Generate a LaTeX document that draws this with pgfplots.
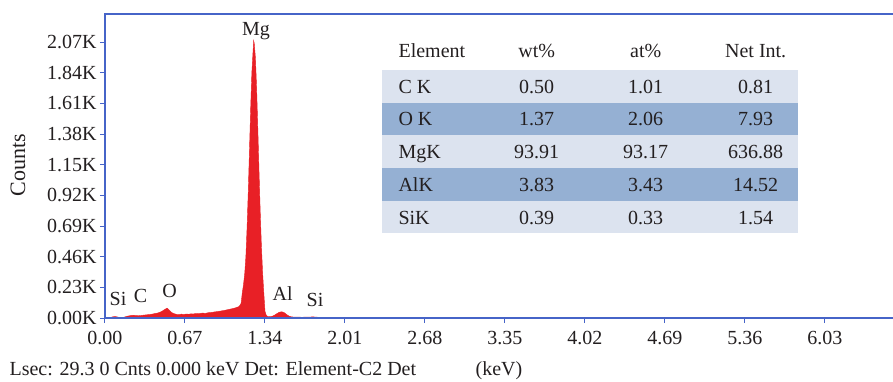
\documentclass[border=0pt]{standalone}
\usepackage{fontspec}
\setmainfont{Liberation Serif}
\usepackage{pgfplots}
\pgfplotsset{compat=1.18}
\definecolor{axblue}{RGB}{70,100,200}
\definecolor{specred}{RGB}{232,32,38}
\definecolor{rowlight}{RGB}{220,227,239}
\definecolor{rowdark}{RGB}{149,176,211}
\definecolor{txt}{RGB}{35,31,32}
\newcommand{\fsz}{\fontsize{20}{24}\selectfont}
\begin{document}
\begin{tikzpicture}[font=\fsz, text=txt]
\useasboundingbox (-105pt,-63pt) rectangle (788pt,318pt);
\begin{axis}[
  at={(0pt,0pt)}, anchor=south west, scale only axis,
  width=788pt, height=304pt,
  xmin=0, xmax=6.6, ymin=0, ymax=2.28,
  axis line style={draw=none},
  xtick={0,0.67,1.34,2.01,2.68,3.35,4.02,4.69,5.36,6.03},
  xticklabels={0.00,0.67,1.34,2.01,2.68,3.35,4.02,4.69,5.36,6.03},
  ytick={0,0.23,0.46,0.69,0.92,1.15,1.38,1.61,1.84,2.07},
  yticklabels={0.00K,0.23K,0.46K,0.69K,0.92K,1.15K,1.38K,1.61K,1.84K,2.07K},
  xtick pos=bottom, ytick pos=left, tick align=outside,
  major tick length=5pt, minor tick num=0,
  tick style={axblue, line width=1pt},
  tick label style={font=\fsz, text=txt},
  xticklabel style={yshift=-5pt},
  ylabel={Counts},
  ylabel style={at={(axis description cs:-0.1104,0.503)}, anchor=center, rotate=0, font=\fontsize{22}{26}\selectfont, text=txt},
  xlabel={(keV)},
  xlabel style={at={(axis description cs:0.5,-0.1875)}, anchor=base, font=\fsz, text=txt},
  clip=false,
]
\addplot[fill=specred, draw=specred, line width=0.4pt] coordinates {
(0.00,0) (0.04,0.001) (0.06,0.008) (0.08,0.011) (0.10,0.009) (0.12,0.004)
(0.14,0.003) (0.16,0.006) (0.18,0.012) (0.20,0.016) (0.22,0.019) (0.24,0.021)
(0.26,0.018) (0.28,0.017) (0.30,0.019) (0.32,0.021) (0.34,0.023) (0.36,0.025)
(0.38,0.027) (0.40,0.030) (0.42,0.034) (0.44,0.037) (0.46,0.043) (0.48,0.052)
(0.50,0.064) (0.52,0.074) (0.54,0.058) (0.56,0.040) (0.58,0.032) (0.60,0.027)
(0.62,0.025) (0.64,0.029) (0.66,0.026) (0.68,0.030) (0.70,0.028) (0.72,0.031)
(0.74,0.030) (0.76,0.034) (0.78,0.032) (0.80,0.035) (0.82,0.037) (0.84,0.034)
(0.86,0.039) (0.88,0.041) (0.90,0.043) (0.92,0.046) (0.94,0.048) (0.96,0.051)
(0.98,0.054) (1.00,0.057) (1.02,0.061) (1.04,0.065) (1.06,0.069) (1.08,0.073)
(1.10,0.078) (1.12,0.085) (1.13,0.095) (1.14,0.110) (1.145,0.150) (1.15,0.190)
(1.16,0.250) (1.17,0.330) (1.18,0.460) (1.19,0.680) (1.20,0.950) (1.21,1.260)
(1.22,1.570) (1.23,1.840) (1.24,2.000) (1.245,2.080) (1.25,2.060) (1.26,1.950)
(1.27,1.720) (1.28,1.420) (1.29,1.100) (1.30,0.800) (1.31,0.540) (1.32,0.340)
(1.33,0.190) (1.335,0.120) (1.34,0.050) (1.35,0.022) (1.36,0.012) (1.38,0.010)
(1.40,0.013) (1.42,0.021) (1.44,0.033) (1.46,0.043) (1.48,0.047) (1.50,0.041)
(1.52,0.027) (1.54,0.015)
(1.56,0.009) (1.58,0.007) (1.60,0.006) (1.62,0.007) (1.64,0.006) (1.66,0.006)
(1.68,0.007) (1.70,0.006) (1.72,0.007) (1.74,0.009) (1.76,0.007) (1.78,0.006)
(1.80,0.005) (1.90,0.006) (2.00,0.005) (2.10,0.006) (2.20,0.004) (2.30,0.005)
(2.40,0.004) (2.50,0.005) (2.60,0.004) (2.70,0.005) (2.80,0.004) (2.90,0.004)
(3.00,0.005) (3.10,0.004) (3.20,0.004) (3.30,0.005) (3.40,0.004) (3.50,0.004)
(3.60,0.003) (3.70,0.004) (3.80,0.004) (3.90,0.003) (4.00,0.004) (4.10,0.003)
(4.20,0.004) (4.30,0.003) (4.40,0.003) (4.50,0.004) (4.60,0.003) (4.70,0.003)
(4.80,0.003) (4.90,0.003) (5.00,0.003) (5.10,0.003) (5.20,0.002) (5.30,0.003)
(5.40,0.003) (5.50,0.002) (5.60,0.003) (5.70,0.002) (5.80,0.002) (5.90,0.003)
(6.00,0.002) (6.10,0.002) (6.20,0.002) (6.30,0.002) (6.40,0.002) (6.50,0.002)
(6.60,0.002)
} \closedcycle;
\node[anchor=base] at (axis cs:1.265,2.12) {Mg};
\node[anchor=base] at (axis cs:0.109,0.0975) {Si};
\node[anchor=base] at (axis cs:0.297,0.12) {C};
\node[anchor=base] at (axis cs:0.540,0.1575) {O};
\node[anchor=base] at (axis cs:1.488,0.135) {Al};
\node[anchor=base] at (axis cs:1.759,0.09) {Si};
\draw[axblue, line width=1.3pt] (rel axis cs:1,1) -- (rel axis cs:0,1) -- (rel axis cs:0,0) -- (rel axis cs:1,0);
\end{axis}
% table
\fill[rowlight] (276.7pt,215.3pt) rectangle (692.7pt,248pt);
\fill[rowdark]  (276.7pt,183pt)   rectangle (692.7pt,215.3pt);
\fill[rowlight] (276.7pt,150.3pt) rectangle (692.7pt,183pt);
\fill[rowdark]  (276.7pt,117pt)   rectangle (692.7pt,150.3pt);
\fill[rowlight] (276.7pt,84.7pt)  rectangle (692.7pt,117pt);
\node[anchor=base west] at (290pt,261pt) {Element};
\node[anchor=base] at (431.7pt,261pt) {wt\%};
\node[anchor=base] at (540.7pt,261pt) {at\%};
\node[anchor=base] at (650.7pt,261pt) {Net Int.};
\node[anchor=base west] at (290pt,225pt) {C K};
\node[anchor=base] at (431.7pt,225pt) {0.50};
\node[anchor=base] at (540.7pt,225pt) {1.01};
\node[anchor=base] at (650.7pt,225pt) {0.81};
\node[anchor=base west] at (290pt,192.4pt) {O K};
\node[anchor=base] at (431.7pt,192.4pt) {1.37};
\node[anchor=base] at (540.7pt,192.4pt) {2.06};
\node[anchor=base] at (650.7pt,192.4pt) {7.93};
\node[anchor=base west] at (290pt,160pt) {MgK};
\node[anchor=base] at (431.7pt,160pt) {93.91};
\node[anchor=base] at (540.7pt,160pt) {93.17};
\node[anchor=base] at (650.7pt,160pt) {636.88};
\node[anchor=base west] at (290pt,127pt) {AlK};
\node[anchor=base] at (431.7pt,127pt) {3.83};
\node[anchor=base] at (540.7pt,127pt) {3.43};
\node[anchor=base] at (650.7pt,127pt) {14.52};
\node[anchor=base west] at (290pt,94pt) {SiK};
\node[anchor=base] at (431.7pt,94pt) {0.39};
\node[anchor=base] at (540.7pt,94pt) {0.33};
\node[anchor=base] at (650.7pt,94pt) {1.54};
\node[anchor=base west] at (-99pt,-57pt) {Lsec: 29.3 0 Cnts 0.000 keV Det: Element-C2 Det};
\end{tikzpicture}
\end{document}
